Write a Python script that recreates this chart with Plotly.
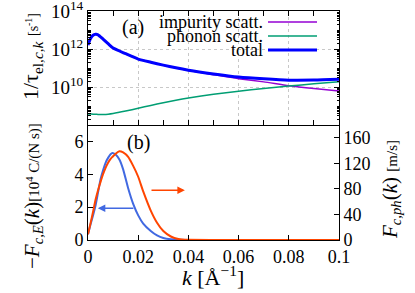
import plotly.graph_objects as go

# ---------------- data ----------------
k_a = [0, 0.001, 0.002, 0.003, 0.004, 0.006, 0.008, 0.01, 0.015, 0.02, 0.025, 0.03,
       0.035, 0.04, 0.05, 0.06, 0.07, 0.08, 0.09, 0.1]
impurity = [1.6e12, 3.55e12, 5.25e12, 5.9e12, 5.6e12, 3.3e12, 1.9e12, 1.12e12,
            5.62e11, 2.95e11, 2.0e11, 1.41e11, 1.0e11, 7.41e10, 4.47e10, 2.75e10,
            1.86e10, 1.17e10, 8.3e9, 6.2e9]
phonon = [3.8e8, 3.8e8, 3.7e8, 3.7e8, 3.6e8, 3.6e8, 3.7e8, 4.0e8, 5.4e8, 7.6e8, 1.07e9,
          1.48e9, 2.0e9, 2.63e9, 4.17e9, 6.03e9, 8.3e9, 1.12e10, 1.48e10, 1.9e10]
total = [1.6e12, 3.55e12, 5.25e12, 5.9e12, 5.6e12, 3.3e12, 1.9e12, 1.12e12,
         5.63e11, 2.96e11, 2.01e11, 1.42e11, 1.02e11, 7.67e10, 4.89e10, 3.35e10,
         2.69e10, 2.29e10, 2.31e10, 2.52e10]

k_b = [0, 0.001, 0.002, 0.003, 0.004, 0.005, 0.006, 0.007, 0.008, 0.009, 0.0097, 0.011,
       0.0125, 0.014, 0.016, 0.018, 0.02, 0.022, 0.025, 0.0275, 0.03, 0.033, 0.036,
       0.04, 0.05, 0.06, 0.08, 0.1]
F_cE = [0.35, 0.95, 1.5, 2.1, 2.9, 3.7, 4.25, 4.7, 5.0, 5.22, 5.3, 5.2, 4.9, 4.3, 3.15,
        2.2, 1.5, 1.0, 0.55, 0.28, 0.12, 0.04, 0.01, 0, 0, 0, 0, 0]
F_cph = [9, 26, 44, 63, 78, 91, 103, 113, 121, 127, 130, 135, 139, 137, 130, 116, 99, 76,
         46, 27, 14, 5.5, 1.5, 0.2, 0, 0, 0, 0]

x_ticks = [0, 0.02, 0.04, 0.06, 0.08, 0.1]
x_ticktext = ["0", "0.02", "0.04", "0.06", "0.08", "0.1"]
ya_ticks = [1e10, 1e12, 1e14]
ya_ticktext = ["10<sup>10</sup>", "10<sup>12</sup>", "10<sup>14</sup>"]

# ---------------- figure ----------------
FONT = "Liberation Serif, DejaVu Serif, Times New Roman, serif"
PURPLE = "#9400D3"
GREEN = "#009E73"
BLUE = "#0000FF"
BLUE2 = "#4169E1"
ORANGE = "#FF4500"

fig = go.Figure()
fig.add_trace(go.Scatter(x=k_a, y=impurity, mode="lines",
                         line=dict(color=PURPLE, width=1.5, shape="spline", smoothing=0.6),
                         xaxis="x2", yaxis="y2", showlegend=False))
fig.add_trace(go.Scatter(x=k_a, y=phonon, mode="lines",
                         line=dict(color=GREEN, width=1.5, shape="spline", smoothing=0.6),
                         xaxis="x2", yaxis="y2", showlegend=False))
fig.add_trace(go.Scatter(x=k_a, y=total, mode="lines",
                         line=dict(color=BLUE, width=3, shape="spline", smoothing=0.6),
                         xaxis="x2", yaxis="y2", showlegend=False))
fig.add_trace(go.Scatter(x=k_b, y=F_cE, mode="lines",
                         line=dict(color=BLUE2, width=2, shape="spline", smoothing=0.5),
                         xaxis="x", yaxis="y", showlegend=False))
fig.add_trace(go.Scatter(x=k_b, y=F_cph, mode="lines",
                         line=dict(color=ORANGE, width=2, shape="spline", smoothing=0.5),
                         xaxis="x", yaxis="y3", showlegend=False))

split = 115 / 229

minor_log = []
for e in range(8, 14):
    for m in range(2, 10):
        minor_log.append(m * 10 ** e)
    if e + 1 in (9, 11, 13):
        minor_log.append(10 ** (e + 1))

def axis_common(size=18):
    return dict(showline=True, linecolor="black", linewidth=1, ticks="inside",
                tickcolor="black", tickfont=dict(family=FONT, size=size, color="black"),
                zeroline=False, automargin=False, ticklabeloverflow="allow")

fig.update_layout(
    width=415, height=293,
    margin=dict(l=88, r=76, t=11, b=53),
    paper_bgcolor="white", plot_bgcolor="white",
    font=dict(family=FONT, color="black"),
    xaxis=dict(domain=[0, 1], range=[0, 0.1], anchor="y", tickvals=x_ticks, ticktext=x_ticktext,
               ticklen=5, showgrid=False, **axis_common()),
    xaxis2=dict(domain=[0, 1], range=[0, 0.1], anchor="y2", matches="x", showticklabels=False,
                tickvals=x_ticks, ticklen=5, showgrid=True, gridcolor="#c8c8c8", griddash="dot",
                gridwidth=1, mirror="ticks",
                minor=dict(tickvals=[0.01, 0.03, 0.05, 0.07, 0.09], ticklen=5, ticks="inside",
                           tickcolor="black", showgrid=False),
                **axis_common()),
    yaxis=dict(domain=[0, split], range=[0, 7], anchor="x", tickvals=[0, 2, 4, 6], ticklen=5,
               showgrid=False, **axis_common()),
    yaxis3=dict(overlaying="y", side="right", anchor="x", range=[0, 180],
                tickvals=[0, 40, 80, 120, 160], ticklen=5, showgrid=False, **axis_common()),
    yaxis2=dict(domain=[split, 1], type="log", range=[8, 14.0001], anchor="x2", tickvals=ya_ticks,
                ticktext=ya_ticktext, ticklen=5, showgrid=True, gridcolor="#c8c8c8",
                griddash="dot", gridwidth=1, mirror="ticks",
                minor=dict(tickvals=minor_log, ticklen=2.5, ticks="inside", tickcolor="black",
                           showgrid=False),
                **axis_common(19)),
)

def px2paper(px, py):
    return (px - 88) / 251, (240 - py) / 229

annotations = []
# panel labels
for txt, (px, py) in [("(a)", (133, 27)), ("(b)", (138, 142))]:
    xp, yp = px2paper(px, py)
    annotations.append(dict(text=txt, x=xp, y=yp, xref="paper", yref="paper", showarrow=False,
                            xanchor="center", yanchor="middle",
                            font=dict(family=FONT, size=20, color="black")))

# legend (text right-aligned, sample line on the right)
legend_items = [("impurity scatt.", PURPLE, 1.5, 22), ("phonon scatt.", GREEN, 1.5, 36),
                ("total", BLUE, 3, 50)]
for txt, col, w, py in legend_items:
    xp, yp = px2paper(265, py)
    annotations.append(dict(text=txt, x=xp, y=yp, xref="paper", yref="paper", showarrow=False,
                            xanchor="right", yanchor="middle",
                            font=dict(family=FONT, size=18, color="black")))
    x0, _ = px2paper(268, py)
    x1, _ = px2paper(317, py)
    fig.add_shape(type="line", x0=x0, x1=x1, y0=yp, y1=yp, xref="paper", yref="paper",
                  line=dict(color=col, width=w))

# axis titles
def vtitle(text, px, py, size):
    xp, yp = px2paper(px, py)
    return dict(text=text, x=xp, y=yp, xref="paper", yref="paper", showarrow=False,
                textangle=-90, xanchor="center", yanchor="middle",
                font=dict(family=FONT, size=size, color="black"))

annotations.append(vtitle("1/τ<sub>el,<i>c</i>,<i>k</i></sub> <span style='font-size:14px'>[s<sup>-1</sup>]</span>",
                          32, 57, 22))
annotations.append(vtitle("−<i>F</i><sub><i>c,E</i></sub>(<i>k</i>)<span style='font-size:15px'>[10<sup>4</sup> C/(N s)]</span>",
                          33, 196, 21))
annotations.append(vtitle("<i>F</i><sub><i>c,ph</i></sub>(<i>k</i>) <span style='font-size:15px'>[m/s]</span>",
                          391, 190, 21))
xp, yp = px2paper(213, 276)
annotations.append(dict(text="<i>k</i> [Å<sup>−1</sup>]", x=xp, y=yp, xref="paper", yref="paper",
                        showarrow=False, xanchor="center", yanchor="middle",
                        font=dict(family=FONT, size=22, color="black")))

# arrows
annotations.append(dict(x=0.0386, y=3.03, ax=0.0247, ay=3.03, xref="x", yref="y", axref="x",
                        ayref="y", showarrow=True, arrowhead=2, arrowsize=1, arrowwidth=1.5,
                        arrowcolor=ORANGE, text=""))
annotations.append(dict(x=0.0039, y=1.94, ax=0.0187, ay=1.94, xref="x", yref="y", axref="x",
                        ayref="y", showarrow=True, arrowhead=2, arrowsize=1, arrowwidth=1.5,
                        arrowcolor=BLUE2, text=""))

fig.update_layout(annotations=annotations)
fig.write_html("out.html", config={"displayModeBar": False},
               post_script="document.body.style.margin='0';document.body.style.padding='0';")
